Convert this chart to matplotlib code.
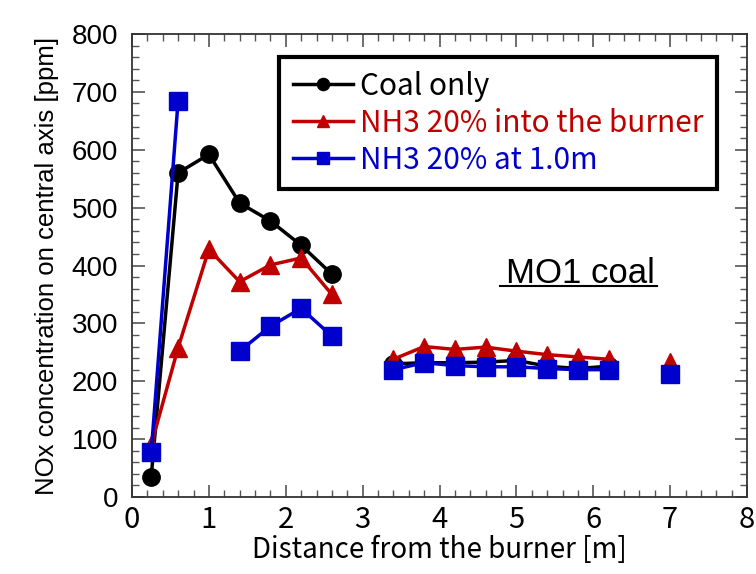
import numpy as np
import matplotlib
matplotlib.use("Agg")
import matplotlib.pyplot as plt
from matplotlib.ticker import MultipleLocator
from matplotlib.lines import Line2D

nan = np.nan

# distance from the burner [m]; NaN breaks the line between groups
x_coal = [0.25, 0.6, 1.0, 1.4, 1.8, 2.2, 2.6, nan, 3.4, 3.8, 4.2, 4.6, 5.0, 5.4, 5.8, 6.2]
y_coal = [35, 560, 592, 508, 477, 435, 385, nan, 230, 232, 232, 233, 236, 226, 222, 226]

x_burner = [0.25, 0.6, 1.0, 1.4, 1.8, 2.2, 2.6, nan, 3.4, 3.8, 4.2, 4.6, 5.0, 5.4, 5.8, 6.2, nan, 7.0]
y_burner = [90, 258, 428, 372, 401, 413, 350, nan, 238, 260, 255, 259, 252, 246, 242, 238, nan, 234]

x_staged = [0.25, 0.6, nan, 1.4, 1.8, 2.2, 2.6, nan, 3.4, 3.8, 4.2, 4.6, 5.0, 5.4, 5.8, 6.2, nan, 7.0]
y_staged = [77, 685, nan, 252, 295, 326, 278, nan, 220, 232, 227, 225, 225, 222, 220, 220, nan, 212]

labels = ["Coal only", "NH3 20% into the burner", "NH3 20% at 1.0m"]
colors = ["black", "#C00000", "#0000CC"]

jp = ["Noto Sans CJK JP", "DejaVu Sans"]
arial = ["Liberation Sans", "DejaVu Sans"]

fig = plt.figure(figsize=(7.56, 5.74), dpi=100)
ax = fig.add_axes([132/756, 1 - 497/574, 615/756, 463/574])

ax.plot(x_coal, y_coal, "-o", color=colors[0], lw=2.5, ms=12.5, label=labels[0], zorder=3)
ax.plot(x_burner, y_burner, "-^", color=colors[1], lw=2.5, ms=13, label=labels[1], zorder=4)
ax.plot(x_staged, y_staged, "-s", color=colors[2], lw=2.5, ms=13, label=labels[2], zorder=5)

ax.set_xlim(0, 8)
ax.set_ylim(0, 800)
ax.xaxis.set_major_locator(MultipleLocator(1))
ax.xaxis.set_minor_locator(MultipleLocator(0.2))
ax.yaxis.set_major_locator(MultipleLocator(100))
ax.yaxis.set_minor_locator(MultipleLocator(20))
ax.tick_params(which="both", direction="in", top=True, right=True, color="#555555")
ax.tick_params(which="major", length=9, width=1.2)
ax.tick_params(which="minor", length=5, width=1.0)
for s in ax.spines.values():
    s.set_linewidth(1.3)
    s.set_color("#333333")

for t in ax.get_yticklabels():
    t.set_family(arial)
    t.set_fontsize(20)
for t in ax.get_xticklabels():
    t.set_family(jp)
    t.set_fontsize(21)
ax.tick_params(axis="x", pad=6)
ax.tick_params(axis="y", pad=10)

ax.set_xlabel("Distance from the burner [m]", family=jp, fontsize=20, labelpad=0)
ax.set_ylabel("NOx concentration on central axis [ppm]", family=arial, fontsize=18.5, labelpad=9)

leg = ax.legend(loc="upper right", bbox_to_anchor=(0.951, 0.95), prop={"family": jp, "size": 21.5},
                frameon=True, fancybox=False, edgecolor="black", framealpha=1, handlelength=2.0,
                handletextpad=0.25, labelspacing=0.2, borderpad=0.45, markerscale=0.7,
                borderaxespad=0)
leg.get_frame().set_linewidth(3)
for txt, c in zip(leg.get_texts(), colors):
    txt.set_color(c)

ax.text(0.729, 0.462, "MO1 coal", transform=ax.transAxes, ha="center", va="baseline",
        family=arial, fontsize=25)
ax.add_line(Line2D([0.598, 0.854], [0.455, 0.455], transform=ax.transAxes, color="black", lw=1.5))

fig.savefig("out.png", dpi=100)
